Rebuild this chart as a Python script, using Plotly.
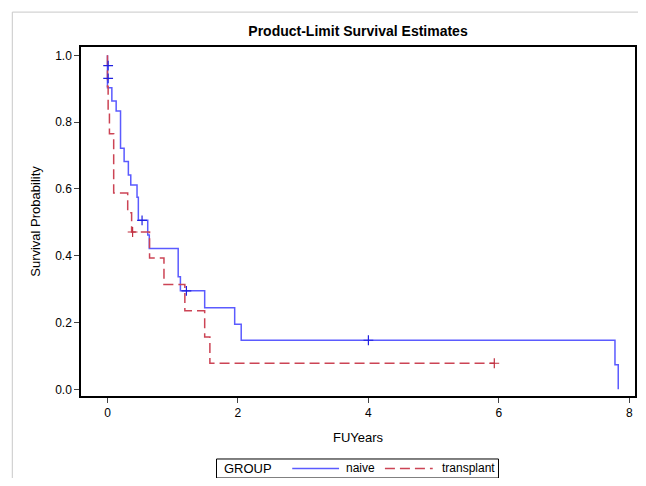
import plotly.graph_objects as go

# ---- data ----
naive_t = [0.0, 0.0, 0.0, 0.0, 0.067, 0.133, 0.20, 0.255, 0.32, 0.357, 0.453, 0.473,
           0.617, 0.641, 1.084, 1.118, 1.49, 1.95, 2.05, 7.78, 7.83]
naive_s = [1.0, 0.969, 0.931, 0.903, 0.863, 0.833, 0.722, 0.682, 0.642, 0.612, 0.575, 0.506,
           0.462, 0.422, 0.337, 0.295, 0.244, 0.195, 0.147, 0.0735, 0.0]
naive_cens_t = [0.01, 0.01, 0.53, 1.21, 4.0]
naive_cens_s = [0.969, 0.931, 0.506, 0.295, 0.147]

trans_t = [0.0, 0.0, 0.01, 0.03, 0.095, 0.31, 0.37, 0.645, 0.866, 1.186, 1.49, 1.57, 5.93]
trans_s = [1.0, 0.907, 0.824, 0.765, 0.588, 0.529, 0.471, 0.393, 0.314, 0.235, 0.157, 0.078, 0.078]
trans_cens_t = [0.385, 5.93]
trans_cens_s = [0.471, 0.078]

x_ticks = [0, 2, 4, 6, 8]
y_ticks = [0.0, 0.2, 0.4, 0.6, 0.8, 1.0]
y_tick_text = ["0.0", "0.2", "0.4", "0.6", "0.8", "1.0"]

group_title = "GROUP"
group_names = ["naive", "transplant"]

BLUE = "#5b5bff"
RED = "#cc4455"
FONT = "Liberation Sans Narrow, Arial Narrow, Liberation Sans, Arial, sans-serif"

fig = go.Figure()
fig.add_trace(go.Scatter(x=naive_t, y=naive_s, mode="lines", line_shape="hv",
                         line=dict(color=BLUE, width=1.5), name=group_names[0], showlegend=False))
fig.add_trace(go.Scatter(x=trans_t, y=trans_s, mode="lines", line_shape="hv",
                         line=dict(color=RED, width=1.5, dash="10px,5px"), name=group_names[1],
                         showlegend=False))
fig.add_trace(go.Scatter(x=naive_cens_t, y=naive_cens_s, mode="markers", showlegend=False,
                         marker=dict(symbol="cross-thin", size=7, line=dict(color="#2020e0", width=1.2))))
fig.add_trace(go.Scatter(x=trans_cens_t, y=trans_cens_s, mode="markers", showlegend=False,
                         marker=dict(symbol="cross-thin", size=7, line=dict(color="#c03040", width=1.2))))

# outer light page border lines
fig.add_shape(type="line", xref="paper", yref="paper", x0=-0.124, x1=1.01, y0=1.100, y1=1.100,
              line=dict(color="#c8c8c8", width=1))
fig.add_shape(type="line", xref="paper", yref="paper", x0=-0.124, x1=-0.124, y0=1.100, y1=-0.26,
              line=dict(color="#c8c8c8", width=1))

# compact legend box (drawn manually to match the reference size)
LY = -0.2077
fig.add_shape(type="rect", xref="paper", yref="paper", x0=0.2446, x1=0.7536, y0=-0.2350, y1=-0.1805,
              line=dict(color="black", width=1), fillcolor="white")
fig.add_shape(type="line", xref="paper", yref="paper", x0=0.3813, x1=0.4658, y0=LY, y1=LY,
              line=dict(color=BLUE, width=1.5))
fig.add_shape(type="line", xref="paper", yref="paper", x0=0.5486, x1=0.6349, y0=LY, y1=LY,
              line=dict(color=RED, width=1.5, dash="10px,5px"))
for txt, xp in [(group_title, 0.2554), (group_names[0], 0.4748), (group_names[1], 0.6475)]:
    fig.add_annotation(text=txt, xref="paper", yref="paper", x=xp, y=LY, xanchor="left",
                       yanchor="middle", showarrow=False,
                       font=dict(size=13 if txt == group_title else 12, family=FONT))

fig.update_layout(
    width=630, height=470, autosize=False, showlegend=False,
    margin=dict(l=73, r=1, t=39, b=82),
    paper_bgcolor="white", plot_bgcolor="white",
    font=dict(family=FONT, size=11, color="black"),
    title=dict(text="<b>Product-Limit Survival Estimates</b>", x=0.5, xref="paper",
               y=0.951, yanchor="middle", font=dict(size=14, family=FONT)),
    xaxis=dict(range=[-0.406, 8.087], tickvals=x_ticks, ticks="outside", ticklen=5,
               showgrid=False, zeroline=False, showline=True, linecolor="black", linewidth=1.5,
               mirror=True, title=dict(text="FUYears", font=dict(size=13), standoff=14),
               tickfont=dict(size=12)),
    yaxis=dict(range=[-0.020, 1.025], tickvals=y_ticks, ticktext=y_tick_text, ticks="outside",
               ticklen=5, showgrid=False, zeroline=False, showline=True, linecolor="black",
               linewidth=1.5, mirror=True,
               title=dict(text="Survival Probability", font=dict(size=13), standoff=12),
               tickfont=dict(size=12)),
)

fig.write_html("out.html")
